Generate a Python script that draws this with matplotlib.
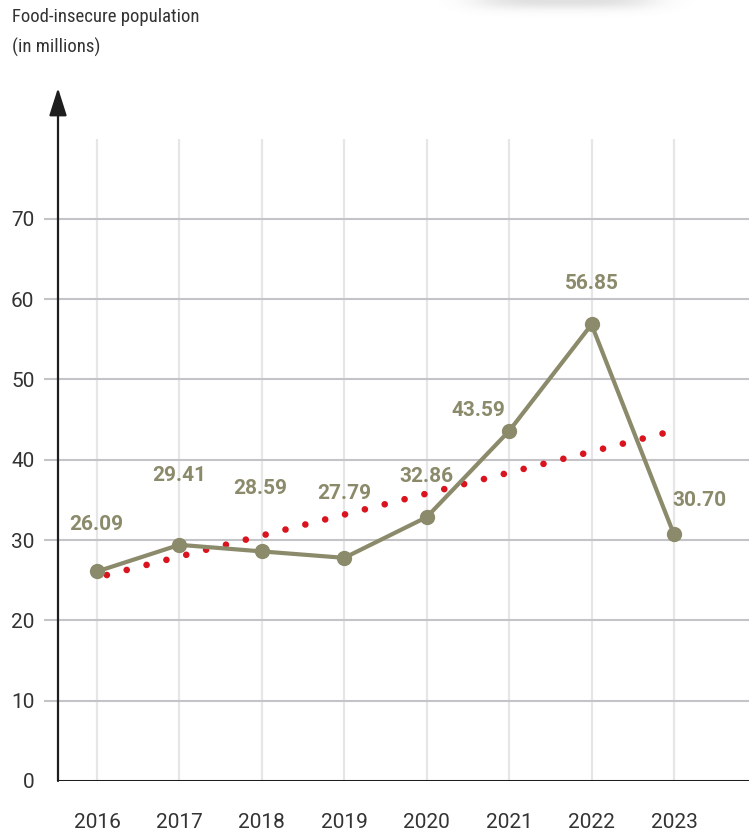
import numpy as np
import matplotlib
matplotlib.use("Agg")
import matplotlib.pyplot as plt

# food-insecure population, millions
years = [2016, 2017, 2018, 2019, 2020, 2021, 2022, 2023]
population = [26.09, 29.41, 28.59, 27.79, 32.86, 43.59, 56.85, 30.70]
y_ticks = [0, 10, 20, 30, 40, 50, 60, 70]

# label placement (offset in pixels from each point)
label_offsets = [(-1, 47), (0, 69), (-2, 63), (0, 64), (0, 41), (-31, 20), (0, 41), (25, 34)]

OLIVE = "#8b8a6b"
RED = "#d9141f"
AXIS = "#1e1e1e"
NARROW = ["Roboto Condensed", "Liberation Sans Narrow", "Open Sans Condensed", "Roboto", "DejaVu Sans"]

plt.rcParams["font.family"] = ["Roboto", "DejaVu Sans"]

W, H = 749, 839
fig = plt.figure(figsize=(W / 100, H / 100), dpi=100)
ax = fig.add_axes([58 / W, 58 / H, (W - 58) / W, 693 / H])

x0, x1 = 2015.527, 2023.91
ax.set_xlim(x0, x1)
ax.set_ylim(0, 86.3)

# grid
ax.vlines(years, 0, 80, color="#e6e6e6", lw=1.6, zorder=0)
ax.hlines(y_ticks[1:], x0 - 0.17, x1, color="#c4c4c8", lw=1.5, zorder=0, clip_on=False)

# linear trend over the series
coef = np.polyfit(years, population, 1)
tx = np.array([2016.12, 2022.87])
ax.plot(tx, np.polyval(coef, tx), color=RED, lw=4.8, linestyle=(0, (0.001, 14.74 / 4.8)),
        dash_capstyle="round", zorder=2)

ax.plot(years, population, color=OLIVE, lw=3, marker="o", ms=10, zorder=3)

for yr, v, (dx, dy) in zip(years, population, label_offsets):
    ax.annotate(f"{v:.2f}", (yr, v), xytext=(dx, dy), textcoords="offset pixels",
                ha="center", va="center", fontsize=15, fontweight="bold", color=OLIVE)

# axes: arrowed y axis, plain x axis
for s in ax.spines.values():
    s.set_visible(False)
ax.axhline(0, color=AXIS, lw=2.2, zorder=4)
ax.annotate("", xy=(x0, 86.3), xytext=(x0, 0), annotation_clip=False,
            arrowprops=dict(arrowstyle="-|>,head_length=0.85,head_width=0.27",
                            mutation_scale=20, lw=1.6, color=AXIS, shrinkA=0, shrinkB=0))

ax.set_xticks(years)
ax.set_xticklabels([str(y) for y in years])
ax.set_yticks(y_ticks)
ax.tick_params(length=0, labelsize=15, labelcolor="#333333")
ax.tick_params(axis="y", pad=17)
ax.tick_params(axis="x", pad=23)

fig.text(12 / W, 1 - 17 / H, "Food-insecure population", fontsize=13.5, color="#333333",
         va="center", family=NARROW)
fig.text(12 / W, 1 - 47 / H, "(in millions)", fontsize=13.5, color="#333333",
         va="center", family=NARROW)

# soft shadow at the top edge
sh = fig.add_axes([400 / W, 1 - 30 / H, 330 / W, 30 / H])
gx, gy = np.meshgrid(np.linspace(-1, 1, 330), np.linspace(0, 1, 30))
alpha = np.exp(-(gx / 0.55) ** 4) * np.exp(-(gy / 0.3) ** 2) * 0.22
img = np.zeros((30, 330, 4))
img[..., :3] = 0.45
img[..., 3] = alpha
sh.imshow(img, aspect="auto", extent=(0, 1, 1, 0))
sh.axis("off")

fig.savefig("out.png", dpi=100)
